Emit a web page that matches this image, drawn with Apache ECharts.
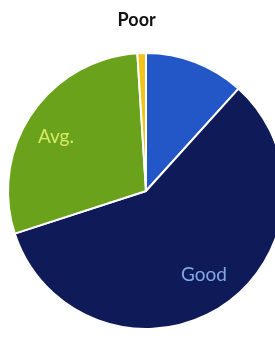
<!DOCTYPE html>
<html>
<head>
<meta charset="utf-8">
<script src="https://cdn.jsdelivr.net/npm/echarts@6/dist/echarts.min.js"></script>
<style>
html,body{margin:0;padding:0;background:#fff;}
#c{width:275px;height:340px;}
</style>
</head>
<body>
<div id="c"></div>
<script>
const categories = ['Excellent', 'Good', 'Avg.', 'Poor'];
const values = [11.7, 58.3, 29.0, 1.0];
const sliceColors = ['#2357c8', '#0f1a58', '#6aa31b', '#f3c317'];
const labelShown = [false, true, true, true];
const labelColors = ['#ffffff', '#82a9e6', '#d6ea66', '#111111'];

const chart = echarts.init(document.getElementById('c'), null, {renderer: 'canvas'});
const center = [146, 191];
const R = 138;

const baseData = categories.map((n, i) => ({
  name: n, value: values[i],
  itemStyle: {color: sliceColors[i]}
}));
const labelData = categories.map((n, i) => {
  const isPoor = n === 'Poor';
  return {
    name: n, value: values[i],
    itemStyle: {color: 'rgba(0,0,0,0)', borderWidth: 0},
    label: {
      show: labelShown[i],
      position: isPoor ? 'outside' : 'inside',
      color: labelColors[i],
      fontSize: isPoor ? 18 : 19,
      fontWeight: isPoor ? 'bold' : 'normal',
      fontFamily: 'Lato, "Open Sans", sans-serif'
    },
    labelLine: {show: false, length: 33, length2: 0}
  };
});

const layoutTweak = {
  'Good': {dy: -6},
  'Avg.': {dy: 6, dx: -2},
  'Poor': {align: 'center', dx: 1}
};

chart.setOption({
  animation: false,
  backgroundColor: '#ffffff',
  series: [
    {
      type: 'pie',
      center: center,
      radius: [0, R],
      startAngle: 90,
      clockwise: true,
      silent: true,
      label: {show: false},
      labelLine: {show: false},
      itemStyle: {borderColor: '#ffffff', borderWidth: 2},
      data: baseData
    },
    {
      type: 'pie',
      center: center,
      radius: [R * 0.5, R],
      startAngle: 90,
      clockwise: true,
      silent: true,
      avoidLabelOverlap: false,
      labelLayout: function (p) {
        return layoutTweak[categories[p.dataIndex]] || {};
      },
      data: labelData
    }
  ]
});
</script>
</body>
</html>
